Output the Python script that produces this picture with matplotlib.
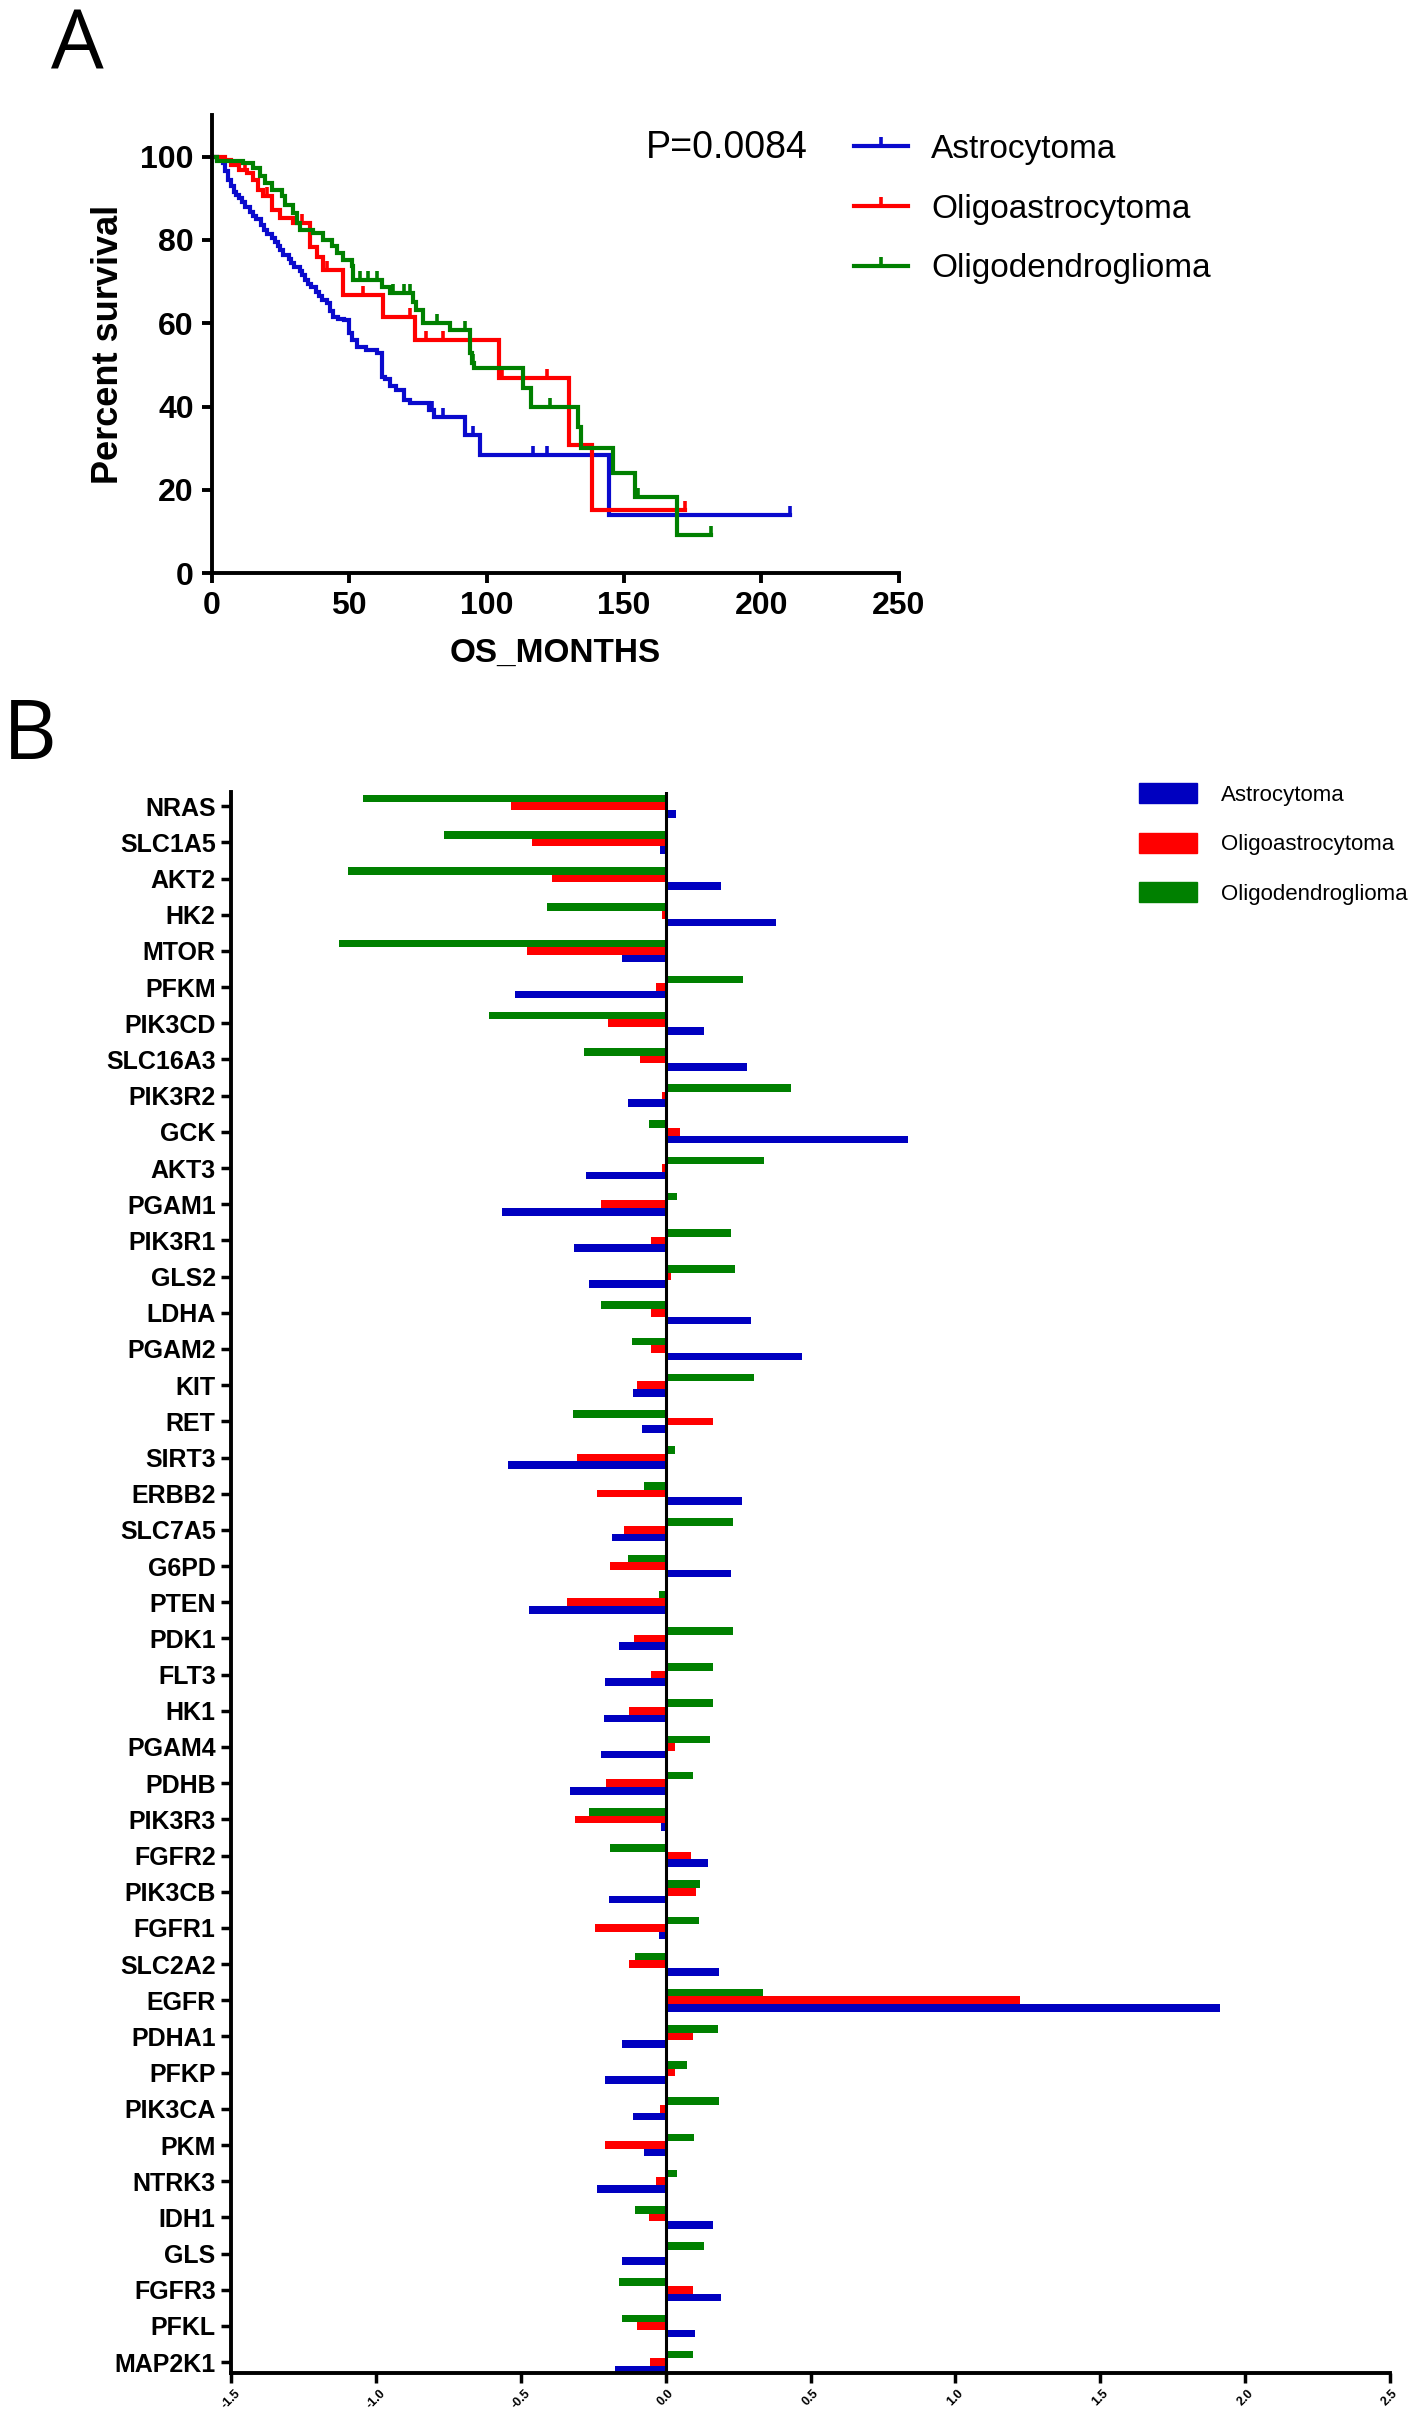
import matplotlib
matplotlib.use('Agg')
import matplotlib.pyplot as plt
import numpy as np
from matplotlib.path import Path
from matplotlib.lines import Line2D
from matplotlib.patches import Patch

plt.rcParams['font.family'] = ['Liberation Sans', 'DejaVu Sans']

groups = ['Astrocytoma', 'Oligoastrocytoma', 'Oligodendroglioma']
km_colors = ['#0a0acd', '#ff0000', '#008000']
bar_colors = ['#0000c0', '#ff0000', '#008000']

# --- panel A : Kaplan-Meier steps (months, percent survival) ---
astro_t = [0, 2, 4, 5, 6, 7, 8, 9, 10, 11, 12, 14, 15, 16, 18, 19, 20, 22, 23, 24,
           25, 26, 28, 29, 30, 32, 33, 34, 35, 36, 38, 39, 40, 42, 43, 44, 46, 48,
           50, 51, 53, 56, 60, 62, 63, 65, 67, 70, 72, 79, 81, 92, 97.6, 144.6]
astro_s = [100, 99.2, 98.4, 96.5, 94.5, 93, 91.5, 90.8, 90, 89, 88, 86.8, 85.7, 85,
           83.5, 82.5, 81.5, 80.5, 79.5, 78.5, 77.5, 76.5, 75.5, 74.5, 73.5, 72.5,
           71.5, 70.5, 69.5, 68.8, 67.5, 66.5, 65.5, 64.8, 63, 61.6, 61, 60.8, 57.6,
           56, 54.4, 53.5, 52.8, 47.2, 46.5, 45, 44, 41.5, 40.8, 39.2, 37.6, 33.2,
           28.4, 13.9]
astro_cens = [80, 84, 95, 117, 122, 210.5]
astro_end = 210.5

oligoastro_t = [0, 5, 7, 10, 13, 15, 17, 18.8, 21.8, 24.8, 29.7, 35.7, 38.2, 40.6,
                47.9, 62.2, 73.9, 104.4, 130, 138.5]
oligoastro_s = [100, 99.3, 98, 96.9, 96, 94.5, 92, 90.5, 87.3, 85.3, 84.1, 78.4, 76,
                72.8, 66.8, 61.6, 56, 46.8, 30.8, 15.1]
oligoastro_cens = [12, 20, 31, 33, 42, 55, 72, 78, 84, 105.5, 122, 172]
oligoastro_end = 172.1

oligodendro_t = [0, 2, 11.5, 15.1, 17.6, 19.4, 21.8, 25.4, 26.7, 29.7, 30.9, 32.1, 37,
                 40.6, 43.6, 45.4, 47.9, 51, 51.5, 61.8, 64.8, 73.4, 74.5, 76.9, 86.7,
                 93.9, 94.6, 95.4, 113.3, 116.3, 133.3, 134.2, 145.8, 154, 169.4]
oligodendro_s = [100, 99, 98.5, 97.3, 95.3, 93.7, 92.1, 90.5, 88.5, 86.5, 84.1, 82.5,
                 81.7, 80.1, 78.5, 76.9, 75.3, 73.7, 70.5, 68.8, 67.2, 65, 63.2, 60,
                 58.4, 52.8, 50.5, 49.2, 44.4, 40, 35, 30.1, 24.1, 18.2, 9.2]
oligodendro_cens = [54, 57, 60, 66, 70, 72, 82, 92, 95, 123, 155, 181.8]
oligodendro_end = 181.8

p_text = 'P=0.0084'

# --- panel B : per-gene values ---
genes = ['NRAS', 'SLC1A5', 'AKT2', 'HK2', 'MTOR', 'PFKM', 'PIK3CD', 'SLC16A3', 'PIK3R2',
         'GCK', 'AKT3', 'PGAM1', 'PIK3R1', 'GLS2', 'LDHA', 'PGAM2', 'KIT', 'RET', 'SIRT3',
         'ERBB2', 'SLC7A5', 'G6PD', 'PTEN', 'PDK1', 'FLT3', 'HK1', 'PGAM4', 'PDHB',
         'PIK3R3', 'FGFR2', 'PIK3CB', 'FGFR1', 'SLC2A2', 'EGFR', 'PDHA1', 'PFKP',
         'PIK3CA', 'PKM', 'NTRK3', 'IDH1', 'GLS', 'FGFR3', 'PFKL', 'MAP2K1']
astro_val = [0.035, -0.018, 0.191, 0.382, -0.152, -0.52, 0.132, 0.282, -0.131, 0.838,
             -0.275, -0.566, -0.315, -0.265, 0.295, 0.471, -0.111, -0.083, -0.543,
             0.262, -0.186, 0.225, -0.472, -0.16, -0.209, -0.212, -0.223, -0.331,
             -0.015, 0.146, -0.197, -0.023, 0.185, 1.912, -0.152, -0.209, -0.111,
             -0.074, -0.238, 0.165, -0.149, 0.191, 0.103, -0.175]
oligoastro_val = [-0.532, -0.462, -0.392, -0.014, -0.48, -0.034, -0.2, -0.089, -0.014,
                  0.048, -0.014, -0.223, -0.049, 0.02, -0.049, -0.052, -0.1, 0.165,
                  -0.306, -0.238, -0.142, -0.191, -0.34, -0.109, -0.052, -0.126, 0.034,
                  -0.206, -0.314, 0.088, 0.105, -0.245, -0.126, 1.222, 0.094, 0.034,
                  -0.018, -0.209, -0.034, -0.058, 0.009, 0.094, -0.1, -0.055]
oligodendro_val = [-1.045, -0.766, -1.097, -0.409, -1.126, 0.266, -0.609, -0.28, 0.431,
                   -0.058, 0.34, 0.038, 0.225, 0.24, -0.223, -0.115, 0.306, -0.32, 0.032,
                   -0.074, 0.232, -0.131, -0.023, 0.232, 0.165, 0.162, 0.154, 0.094,
                   -0.265, -0.191, 0.117, 0.114, -0.105, 0.337, 0.18, 0.075, 0.185,
                   0.098, 0.038, -0.105, 0.132, -0.16, -0.152, 0.094]
bar_xticks = [-1.5, -1.0, -0.5, 0.0, 0.5, 1.0, 1.5, 2.0, 2.5]

fig = plt.figure(figsize=(14.17, 24.17), dpi=100)

# censor mark: short vertical stroke going up from the curve
tick_mark = Path([[0, 0], [0, 1]])

# ---------------- panel A ----------------
axA = fig.add_axes([0.1494, 0.7629, 0.4850, 0.1895])
km = [(astro_t, astro_s, astro_cens, astro_end),
      (oligoastro_t, oligoastro_s, oligoastro_cens, oligoastro_end),
      (oligodendro_t, oligodendro_s, oligodendro_cens, oligodendro_end)]
handles = []
for (t, s, cens, end), col, name in zip(km, km_colors, groups):
    tt = np.array(t + [end])
    ss = np.array(s + [s[-1]])
    axA.step(tt, ss, where='post', color=col, lw=3.0, solid_joinstyle='miter')
    idx = np.searchsorted(np.array(t), cens, side='right') - 1
    axA.plot(cens, np.array(s)[idx], linestyle='none', marker=tick_mark,
             markersize=13, markeredgewidth=2.6, color=col)
    handles.append(Line2D([], [], color=col, lw=3.0, marker=tick_mark,
                          markersize=13, markeredgewidth=2.6))

axA.set_xlim(0, 250)
axA.set_ylim(0, 110)
axA.set_xticks(np.arange(0, 251, 50))
axA.set_yticks(np.arange(0, 101, 20))
for sp in ['top', 'right']:
    axA.spines[sp].set_visible(False)
for sp in ['left', 'bottom']:
    axA.spines[sp].set_linewidth(2.8)
axA.tick_params(width=2.8, length=7, labelsize=23, pad=6)
for lab in axA.get_xticklabels() + axA.get_yticklabels():
    lab.set_fontweight('bold')
axA.set_xlabel('OS_MONTHS', fontsize=24, fontweight='bold', labelpad=12)
axA.set_ylabel('Percent survival', fontsize=26, fontweight='bold', labelpad=10)

fig.text(0.456, 1 - 148 / 2417, p_text, fontsize=27, va='center')
fig.legend(handles, groups, loc='upper left', bbox_to_anchor=(0.6027, 0.9445),
           frameon=False, fontsize=24, handlelength=1.62, handletextpad=0.7,
           labelspacing=0.86, borderpad=0, borderaxespad=0)

fig.text(0.036, 0.997, 'A', fontsize=60, family='Open Sans', va='top')
fig.text(0.002, 0.712, 'B', fontsize=60, family='Open Sans', va='top')

# ---------------- panel B ----------------
axB = fig.add_axes([0.163, 0.0182, 0.818, 0.6541])
y = np.arange(len(genes))
bh = 0.21
axB.barh(y + bh, astro_val, height=bh, color=bar_colors[0], label=groups[0])
axB.barh(y, oligoastro_val, height=bh, color=bar_colors[1], label=groups[1])
axB.barh(y - bh, oligodendro_val, height=bh, color=bar_colors[2], label=groups[2])
axB.axvline(0, color='black', lw=2.2)

axB.set_xlim(-1.5, 2.5)
axB.set_ylim(len(genes) - 1 + 0.3, -0.39)
axB.set_yticks(y)
axB.set_yticklabels(genes, fontsize=18, fontweight='bold')
axB.set_xticks(bar_xticks)
axB.set_xticklabels(['%.1f' % v for v in bar_xticks], fontsize=9, fontweight='bold',
                    rotation=45)
for sp in ['top', 'right']:
    axB.spines[sp].set_visible(False)
for sp in ['left', 'bottom']:
    axB.spines[sp].set_linewidth(2.8)
axB.tick_params(axis='y', width=2.5, length=7, pad=4)
axB.tick_params(axis='x', width=2.5, length=7, pad=3)

bar_handles = [Patch(color=c) for c in bar_colors]
fig.legend(bar_handles, groups, loc='upper left', bbox_to_anchor=(0.8038, 0.6760),
           frameon=False, fontsize=16, handlelength=2.6, handleheight=1.0,
           handletextpad=1.1, labelspacing=1.22, borderpad=0, borderaxespad=0)

fig.savefig('out.png', dpi=100)
